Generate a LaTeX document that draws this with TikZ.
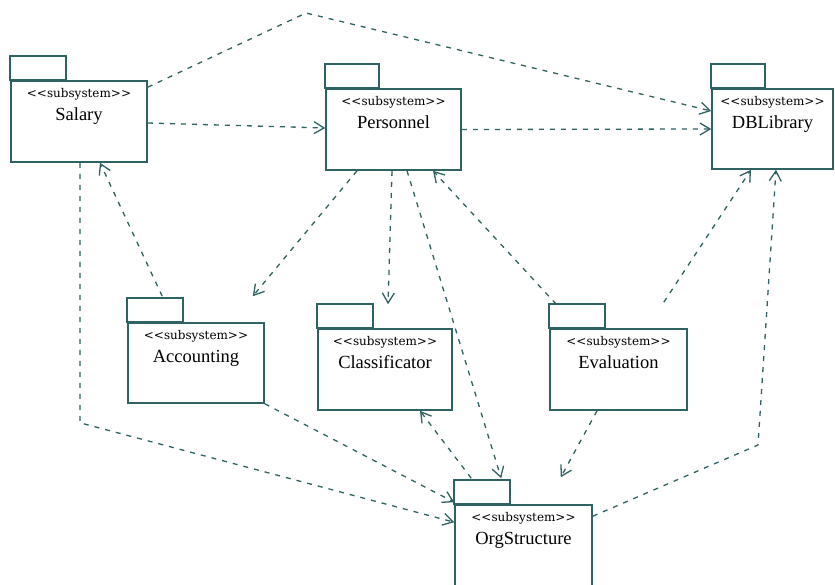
\documentclass[tikz,border=0pt]{standalone}
\usepackage{fontspec}
\setmainfont{Liberation Serif}
\newfontfamily\stereofont{DejaVu Serif}
\usetikzlibrary{arrows.meta}
\definecolor{umlteal}{RGB}{47,98,98}
\tikzset{
  pkgframe/.style={draw=umlteal, line width=1.6pt},
  pkgbody/.style={pkgframe, rectangle, inner sep=0pt, fill=white},
  stereo/.style={anchor=base, inner sep=0pt, font=\stereofont\fontsize{12}{14}\selectfont, text=black},
  pkgname/.style={anchor=base, inner sep=0pt, font=\fontsize{18.5}{20}\selectfont, text=black},
  dep/.style={draw=umlteal, line width=1.3pt, dash pattern=on 5pt off 6pt,
    -{Straight Barb[length=10pt,width=12pt]}}
}
% UML package: name, centre x, centre y, width, height, tab width, title
\newcommand{\umlpackage}[7]{%
  \node[pkgbody, minimum width=#4pt, minimum height=#5pt] (#1) at (#2,#3) {};
  \draw[pkgframe] (#1.north west) rectangle ++(#6,-24);
  \node[stereo] at ([yshift=-17pt]#1.north) {<\kern0pt<subsystem>\kern0pt>};
  \node[pkgname] at ([yshift=-40pt]#1.north) {#7};
}
\begin{document}
\begin{tikzpicture}[x=1pt,y=-1pt]
  \fill[white] (0,0) rectangle (835,585);
  \useasboundingbox (0,0) rectangle (835,585);

  \umlpackage{sal}{79}{121.5}{136}{81}{56}{Salary}
  \umlpackage{per}{393.5}{129.5}{135}{81}{54}{Personnel}
  \umlpackage{dbl}{772.5}{129}{121}{80}{54}{DBLibrary}
  \umlpackage{acc}{196}{363}{136}{80}{56}{Accounting}
  \umlpackage{cls}{385}{369.5}{134}{81}{56}{Classificator}
  \umlpackage{eva}{618.5}{369.5}{137}{81}{56}{Evaluation}
  \umlpackage{org}{523.5}{546}{137}{82}{56}{OrgStructure}

  \coordinate (peak) at (306,13);
  \coordinate (orgbend) at (758,445);

  % dependencies
  \draw[dep] ([yshift=-7pt]sal.north east) -- (peak) -- ([yshift=18pt]dbl.west);
  \draw[dep] ([yshift=-1.5pt]sal.east) -- ([yshift=1.5pt]per.west);
  \draw[dep] (per.east) -- (dbl.west);
  \draw[dep] ([shift={(35pt,26pt)}]acc.north west) -- ([xshift=21pt]sal.south);
  \draw[dep] ([xshift=-36.5pt]per.south) -- ([shift={(-12pt,26pt)}]acc.north east);
  \draw[dep] ([xshift=-1.5pt]per.south) -- ([shift={(3pt,24pt)}]cls.north);
  \draw[dep] ([xshift=13.5pt]per.south) -- ([shift={(47pt,26pt)}]org.north west);
  \draw[dep] ([shift={(7pt,24pt)}]eva.north west) -- ([xshift=39.5pt]per.south);
  \draw[dep] ([shift={(-24pt,26pt)}]eva.north east) -- ([xshift=-21.5pt]dbl.south);
  \draw[dep] ([yshift=-12pt]org.north east) -- (orgbend) -- ([xshift=3.5pt]dbl.south);
  \draw[dep] ([xshift=1pt]sal.south) -- ++(0,260) -- ([yshift=-18pt]org.north west);
  \draw[dep] (acc.south east) -- ([yshift=2pt]org.north west);
  \draw[dep] ([shift={(17pt,26pt)}]org.north west) -- ([xshift=35pt]cls.south);
  \draw[dep] ([xshift=-21.5pt]eva.south) -- ([shift={(-32pt,27pt)}]org.north east);
\end{tikzpicture}
\end{document}
